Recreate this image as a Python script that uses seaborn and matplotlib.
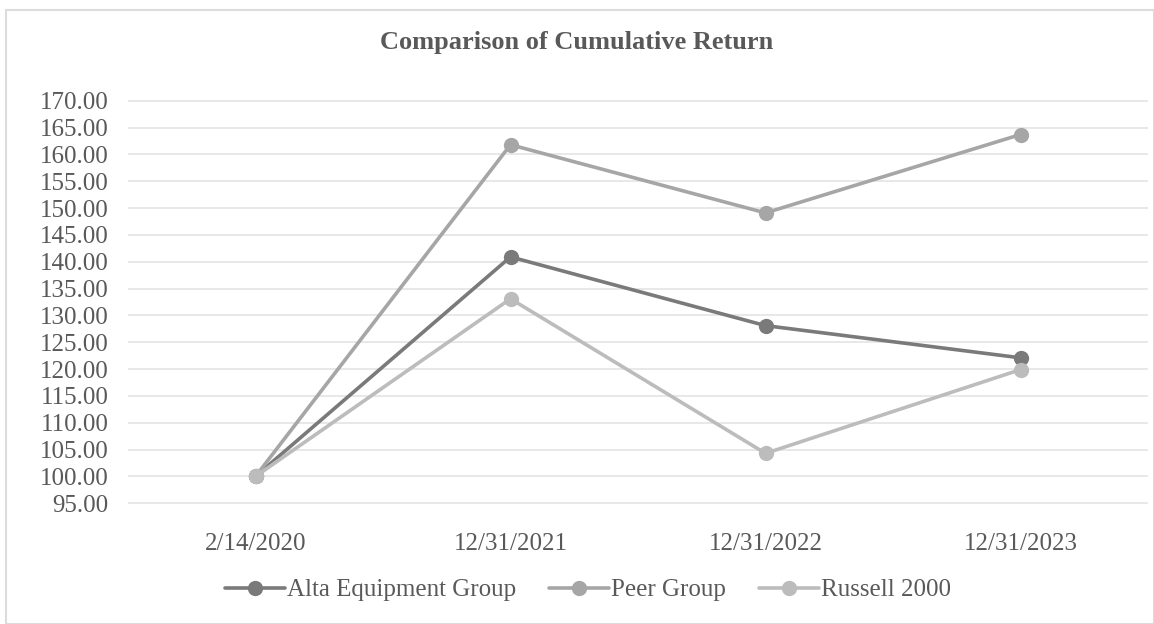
import pandas as pd
import matplotlib.pyplot as plt
import seaborn as sns

dates = ['2/14/2020', '12/31/2021', '12/31/2022', '12/31/2023']
alta = [100.00, 140.9, 128.1, 122.1]
peer = [100.00, 161.8, 149.1, 163.7]
russell = [100.00, 133.1, 104.3, 119.9]
series_names = ['Alta Equipment Group', 'Peer Group', 'Russell 2000']
y_ticks = [95, 100, 105, 110, 115, 120, 125, 130, 135, 140, 145, 150, 155, 160, 165, 170]

sns.set_style('white')
plt.rcParams['font.family'] = ['Liberation Serif', 'DejaVu Serif']

rows = []
for name, vals in zip(series_names, [alta, peer, russell]):
    for i, (d, v) in enumerate(zip(dates, vals)):
        rows.append({'pos': i, 'date': d, 'value': v, 'series': name})
df = pd.DataFrame(rows)

palette = {'Alta Equipment Group': '#7a7a7a',
           'Peer Group': '#a6a6a6',
           'Russell 2000': '#bcbcbc'}

fig = plt.figure(figsize=(11.54, 6.24), dpi=100)
fig.patch.set_facecolor('white')
# light border around the chart area
fig.add_artist(plt.Rectangle((6 / 1154, 0), 1 - 6 / 1154, 1 - 10 / 624,
                             transform=fig.transFigure, fill=False,
                             edgecolor='#dcdcdc', linewidth=1.5))
ax = fig.add_axes([128 / 1154, (624 - 514) / 624, (1148 - 128) / 1154, (514 - 90) / 624])
ax.set_facecolor('white')

sns.lineplot(data=df, x='pos', y='value', hue='series', palette=palette,
             marker='o', markersize=11, markeredgewidth=0, linewidth=2.6,
             ax=ax, legend=True)

ax.set_xlim(-0.5, 3.5)
ax.set_ylim(93.0, 172.0)
ax.set_yticks(y_ticks)
ax.set_yticklabels([f'{t:.2f}' for t in y_ticks])
ax.set_xticks(range(len(dates)))
ax.set_xticklabels(dates)
ax.yaxis.grid(True, color='#e6e6e6', linewidth=1.3)
ax.set_axisbelow(True)
for s in ax.spines.values():
    s.set_visible(False)
ax.tick_params(axis='y', labelsize=18, colors='#595959', length=0, pad=14)
ax.tick_params(axis='x', labelsize=18, colors='#595959', length=0, pad=14)
ax.set_xlabel('')
ax.set_ylabel('')

fig.text(0.5, 1 - 42 / 624, 'Comparison of Cumulative Return', ha='center', va='center',
         fontsize=19, fontweight='bold', color='#595959')

handles, labels = ax.get_legend_handles_labels()
ax.legend(handles, labels, loc='center', bbox_to_anchor=(588 / 1154, 1 - 590 / 624),
          bbox_transform=fig.transFigure, ncol=3, frameon=False, fontsize=18,
          labelcolor='#595959', handlelength=2.4, handletextpad=0.1, columnspacing=1.3)

fig.savefig('out.png', dpi=100, facecolor='white')
